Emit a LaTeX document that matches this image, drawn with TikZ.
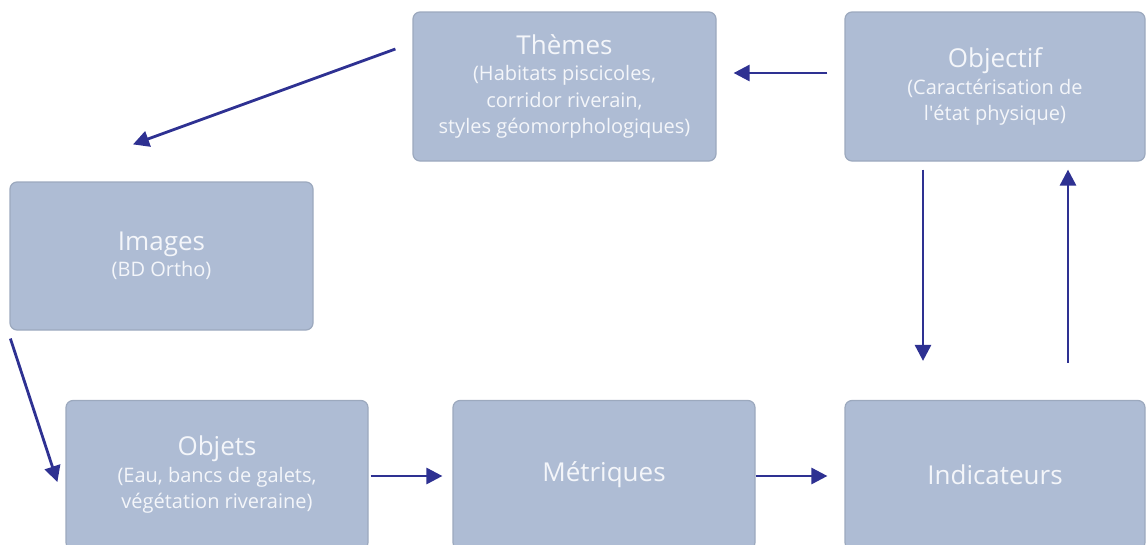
\documentclass[tikz,border=0pt]{standalone}
\usepackage{fontspec}
\setmainfont{Open Sans}
\usepackage{tikz}
\usetikzlibrary{arrows.meta}
\definecolor{boxfill}{HTML}{AEBCD4}
\definecolor{boxline}{HTML}{9CA9BE}
\definecolor{flecheblue}{HTML}{2E3192}
\definecolor{txtwhite}{HTML}{F4F6FA}
\newcommand{\titre}[1]{{\fontsize{26}{32}\selectfont #1}}

\begin{document}
\begin{tikzpicture}[x=1pt, y=-1pt]
\tikzstyle{bloc}=[rectangle, rounded corners=7pt, draw=boxline, line width=1.2pt, fill=boxfill,
  text=txtwhite, align=center, inner sep=0pt, font=\fontsize{20}{26.5}\selectfont]
\tikzstyle{fleche}=[draw=flecheblue, line width=2.8pt, -{Triangle[length=16pt, width=16pt]}]
\useasboundingbox (0,0) rectangle (1146,544);

\node[bloc, minimum width=303pt, minimum height=149pt] (themes) at (564.5,86.5)
  {\titre{Thèmes}\\(Habitats piscicoles,\\corridor riverain,\\styles géomorphologiques)};
\node[bloc, minimum width=300pt, minimum height=149pt] (objectif) at (995,86.5)
  {\titre{Objectif}\\(Caractérisation de\\l\textquotesingle état physique)};
\node[bloc, minimum width=303pt, minimum height=148pt] (images) at (161.5,256)
  {\titre{Images}\\(BD Ortho)};
\node[bloc, minimum width=302pt, minimum height=149pt] (objets) at (217,475)
  {\titre{Objets}\\(Eau, bancs de galets,\\végétation riveraine)};
\node[bloc, minimum width=302pt, minimum height=149pt] (metriques) at (604,475)
  {\titre{Métriques}};
\node[bloc, minimum width=300pt, minimum height=149pt] (indicateurs) at (995,475)
  {\titre{Indicateurs}};

\path[every edge/.style={fleche}]
([xshift=-17pt, yshift=13.5pt]objectif.west) edge ([xshift=17pt, yshift=13.5pt]themes.east)
([xshift=-17pt, yshift=37.5pt]themes.west) edge ([xshift=-28.5pt, yshift=37pt]images.north)
([xshift=1pt, yshift=-8pt]images.south west) edge ([xshift=-8pt, yshift=-7pt]objets.west)
([xshift=2pt, yshift=-1pt]objets.east) edge ([xshift=-10pt, yshift=-1pt]metriques.west)
([yshift=-1pt]metriques.east) edge ([xshift=-17pt, yshift=-1pt]indicateurs.west)
([xshift=-72pt, yshift=-8pt]objectif.south) edge ([xshift=-72pt, yshift=39pt]indicateurs.north)
([xshift=73pt, yshift=37pt]indicateurs.north) edge ([xshift=73pt, yshift=-8pt]objectif.south);

\end{tikzpicture}
\end{document}
